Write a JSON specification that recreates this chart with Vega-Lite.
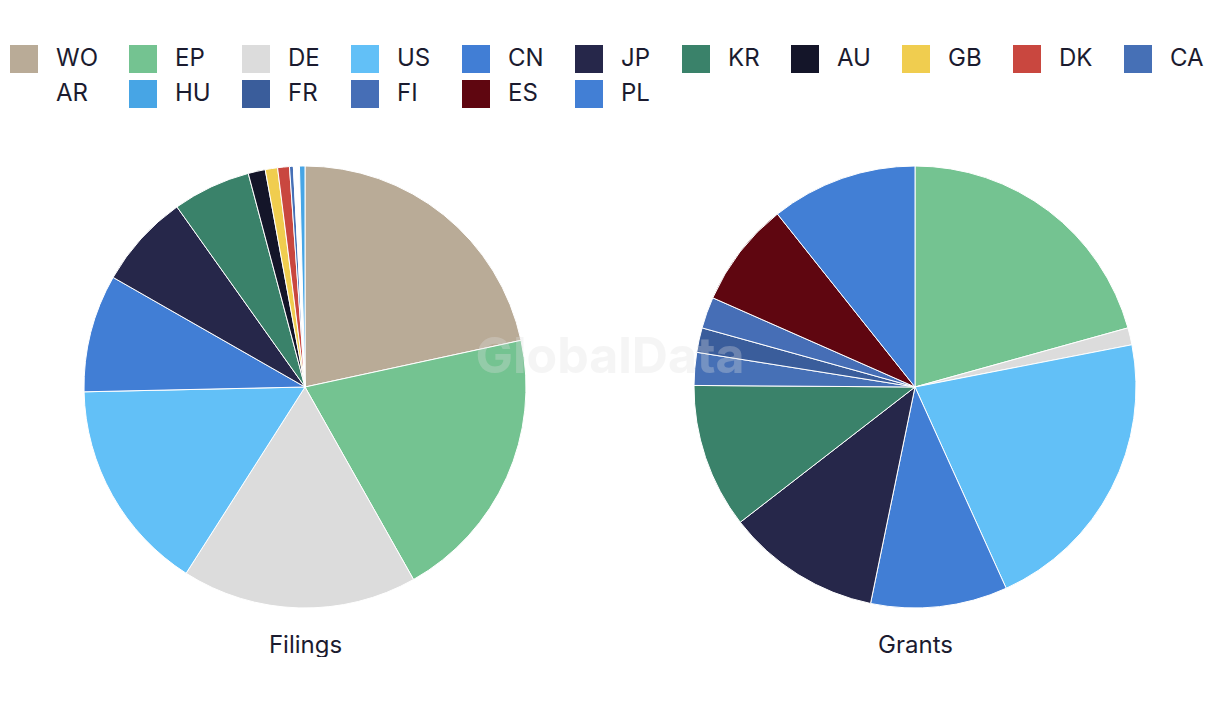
{
  "$schema": "https://vega.github.io/schema/vega-lite/v6.json",
  "width": 1220,
  "height": 482,
  "padding": {"left": 0, "right": 0, "top": 35, "bottom": 0},
  "background": "white",
  "config": {"view": {"stroke": null}, "font": "Inter", "legend": {"gridAlign": "none"}},
  "data": {
    "values": [
      {"type": "Filings", "code": "WO", "ord": 1, "value": 21.6},
      {"type": "Filings", "code": "EP", "ord": 2, "value": 20.2},
      {"type": "Filings", "code": "DE", "ord": 3, "value": 17.2},
      {"type": "Filings", "code": "US", "ord": 4, "value": 15.6},
      {"type": "Filings", "code": "CN", "ord": 5, "value": 8.6},
      {"type": "Filings", "code": "JP", "ord": 6, "value": 6.9},
      {"type": "Filings", "code": "KR", "ord": 7, "value": 5.7},
      {"type": "Filings", "code": "AU", "ord": 8, "value": 1.25},
      {"type": "Filings", "code": "GB", "ord": 9, "value": 0.9},
      {"type": "Filings", "code": "DK", "ord": 10, "value": 0.86},
      {"type": "Filings", "code": "CA", "ord": 11, "value": 0.28},
      {"type": "Filings", "code": "AR", "ord": 12, "value": 0.44},
      {"type": "Filings", "code": "HU", "ord": 13, "value": 0.4},
      {"type": "Grants", "code": "EP", "ord": 2, "value": 20.7},
      {"type": "Grants", "code": "DE", "ord": 3, "value": 1.25},
      {"type": "Grants", "code": "US", "ord": 4, "value": 21.3},
      {"type": "Grants", "code": "CN", "ord": 5, "value": 10.0},
      {"type": "Grants", "code": "JP", "ord": 6, "value": 11.3},
      {"type": "Grants", "code": "KR", "ord": 7, "value": 10.6},
      {"type": "Grants", "code": "CA", "ord": 11, "value": 2.4},
      {"type": "Grants", "code": "FR", "ord": 14, "value": 1.8},
      {"type": "Grants", "code": "FI", "ord": 15, "value": 2.3},
      {"type": "Grants", "code": "ES", "ord": 16, "value": 7.7},
      {"type": "Grants", "code": "PL", "ord": 17, "value": 10.7}
    ]
  },
  "layer": [
    {
      "transform": [
        {"stack": "value", "groupby": ["type"], "sort": [{"field": "ord", "order": "ascending"}], "offset": "normalize", "as": ["v0", "v1"]}
      ],
      "mark": {"type": "arc", "outerRadius": 221, "stroke": "white", "strokeWidth": 1},
      "encoding": {
        "x": {
          "field": "type", "type": "nominal", "sort": ["Filings", "Grants"],
          "scale": {"type": "point", "padding": 0.5},
          "axis": {"title": null, "domain": false, "ticks": false, "labelAngle": 0, "labelFontSize": 24, "labelColor": "#1b1b2f", "labelPadding": 5, "labelFont": "Inter"}
        },
        "theta": {"field": "v0", "type": "quantitative", "stack": null, "scale": {"domain": [0, 1], "range": [0, 6.283185307]}},
        "theta2": {"field": "v1"},
        "color": {
          "field": "code", "type": "nominal",
          "scale": {
            "domain": ["WO", "EP", "DE", "US", "CN", "JP", "KR", "AU", "GB", "DK", "CA", "AR", "HU", "FR", "FI", "ES", "PL"],
            "range": ["#b9ab97", "#74c391", "#dcdcdc", "#62c0f7", "#417ed5", "#26274a", "#3a826a", "#141529", "#f0cd4f", "#c9473f", "#4670b6", "#ffffff", "#47a5e5", "#3a5d9b", "#466eb6", "#5f0610", "#427fd5"]
          },
          "legend": {
            "title": null, "orient": "top", "direction": "horizontal", "columns": 11, "gridAlign": "none",
            "symbolType": "square", "symbolSize": 784, "symbolStrokeWidth": 0, "symbolOpacity": 1,
            "labelFontSize": 24, "labelColor": "#1b1b2f", "labelOffset": 18, "labelFont": "Inter",
            "columnPadding": 31, "rowPadding": 7, "offset": 28, "padding": 10, "labelLimit": 200
          }
        }
      }
    },
    {
      "data": {"values": [{"t": "GlobalData"}]},
      "mark": {"type": "text", "x": {"expr": "width/2"}, "y": {"expr": "height/2 - 29"}, "fontSize": 50, "fontWeight": "bold", "color": "#e0e0e0", "opacity": 0.3, "font": "Inter"},
      "encoding": {"text": {"field": "t"}}
    }
  ]
}
